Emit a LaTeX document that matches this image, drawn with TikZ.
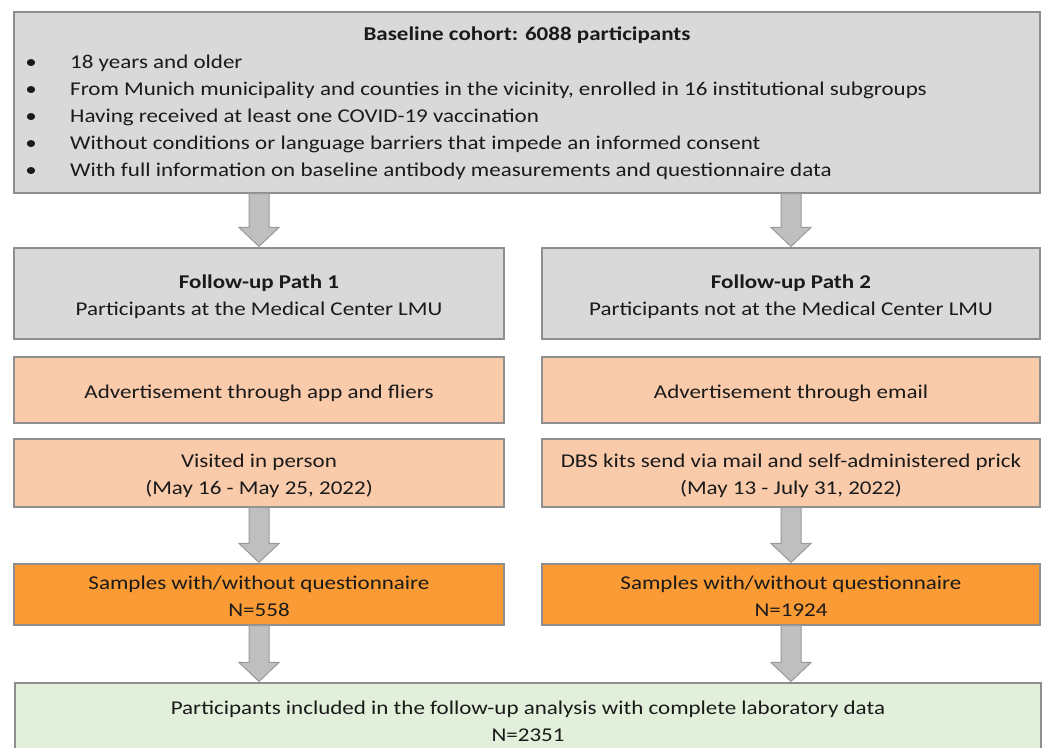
\documentclass[tikz,border=0pt]{standalone}
\usepackage{fontspec}
\setmainfont{Carlito}[FakeStretch=1.18]
\usetikzlibrary{calc}
\definecolor{boxgray}{HTML}{D9D9D9}
\definecolor{peach}{HTML}{FACBAB}
\definecolor{orangefill}{HTML}{FA9B35}
\definecolor{mintgreen}{HTML}{E2EFDA}
\definecolor{edgegray}{HTML}{8E8E8E}
\definecolor{arrowfill}{HTML}{BFBFBF}
\definecolor{arrowedge}{HTML}{9A9A9A}
\definecolor{ink}{HTML}{1A1A1A}

% thick grey block arrow from #1 (tail) down to #2 (tip)
\newcommand\blockarr[2]{%
  \path (#1) coordinate (ba-s) (#2) coordinate (ba-e);
  \draw[blockarrow] ($(ba-s)+(-10,0)$) -- ($(ba-e)+(-10,-20)$)
    -- ($(ba-e)+(-20,-20)$) -- ($(ba-e)+(0,-1)$) -- ($(ba-e)+(20,-20)$)
    -- ($(ba-e)+(10,-20)$) -- ($(ba-s)+(10,0)$) -- cycle;}
% centred box text, set a little below the geometric centre
\newcommand\boxlines[1]{\raisebox{-3pt}[\height][\depth]{\begin{tabular}{@{}c@{}}#1\end{tabular}}}

\begin{document}
\begin{tikzpicture}[x=1pt,y=-1pt,
  box/.style={draw=edgegray,line width=1.1pt,inner sep=0pt,
    text=ink,font=\fontsize{19.5}{27}\selectfont},
  graybox/.style={box,fill=boxgray},
  peachbox/.style={box,fill=peach},
  orangebox/.style={box,fill=orangefill},
  greenbox/.style={box,fill=mintgreen},
  txt/.style={inner sep=0pt,text=ink,font=\fontsize{19.5}{27}\selectfont},
  blockarrow/.style={fill=arrowfill,draw=arrowedge,line width=1pt,line join=miter}]
\clip (0,0) rectangle (1046,747);
\fill[white] (0,0) rectangle (1046,747);

% baseline cohort
\node[graybox,minimum width=1026pt,minimum height=181pt] (base) at (527,102.5) {};
\node[txt,anchor=base] (title) at (527,40) {\textbf{Baseline cohort: 6088 participants}};
\foreach \i/\yy/\t in {1/68/{18 years and older},
  2/95/{From Munich municipality and counties in the vicinity, enrolled in 16 institutional subgroups},
  3/122/{Having received at least one COVID-19 vaccination},
  4/149/{Without conditions or language barriers that impede an informed consent},
  5/176/{With full information on baseline antibody measurements and questionnaire data}}{
  \node[txt,anchor=base] (dot\i) at (31,\yy) {•};
  \node[txt,anchor=base west] (crit\i) at (70,\yy) {\t};
}

% follow-up paths
\node[graybox,minimum width=490pt,minimum height=91pt] (fu1) at (259,293.5)
  {\boxlines{\textbf{Follow-up Path 1}\\Participants at the Medical Center LMU}};
\node[graybox,minimum width=498pt,minimum height=91pt] (fu2) at (791,293.5)
  {\boxlines{\textbf{Follow-up Path 2}\\Participants not at the Medical Center LMU}};

% recruitment
\node[peachbox,minimum width=490pt,minimum height=66pt] (ad1) at (259,390)
  {\boxlines{Advertisement through app and fliers}};
\node[peachbox,minimum width=498pt,minimum height=66pt] (ad2) at (791,390)
  {\boxlines{Advertisement through email}};

% sampling
\node[peachbox,minimum width=490pt,minimum height=68pt] (vis1) at (259,473)
  {\boxlines{Visited in person\\(May 16 - May 25, 2022)}};
\node[peachbox,minimum width=498pt,minimum height=68pt] (vis2) at (791,473)
  {\boxlines{DBS kits send via mail and self-administered prick\\(May 13 - July 31, 2022)}};

% samples
\node[orangebox,minimum width=490pt,minimum height=61pt] (smp1) at (259,594.5)
  {\boxlines{Samples with/without questionnaire\\N=558}};
\node[orangebox,minimum width=498pt,minimum height=61pt] (smp2) at (791,594.5)
  {\boxlines{Samples with/without questionnaire\\N=1924}};

% final analysis set
\node[greenbox,minimum width=1026pt,minimum height=74pt] (final) at (528,720)
  {\boxlines{Participants included in the follow-up analysis with complete laboratory data\\N=2351}};

% arrows
\blockarr{base.south -| fu1.north}{fu1.north}
\blockarr{base.south -| fu2.north}{fu2.north}
\blockarr{vis1.south}{smp1.north}
\blockarr{vis2.south}{smp2.north}
\blockarr{smp1.south}{smp1.south |- final.north}
\blockarr{smp2.south}{smp2.south |- final.north}
\end{tikzpicture}
\end{document}
